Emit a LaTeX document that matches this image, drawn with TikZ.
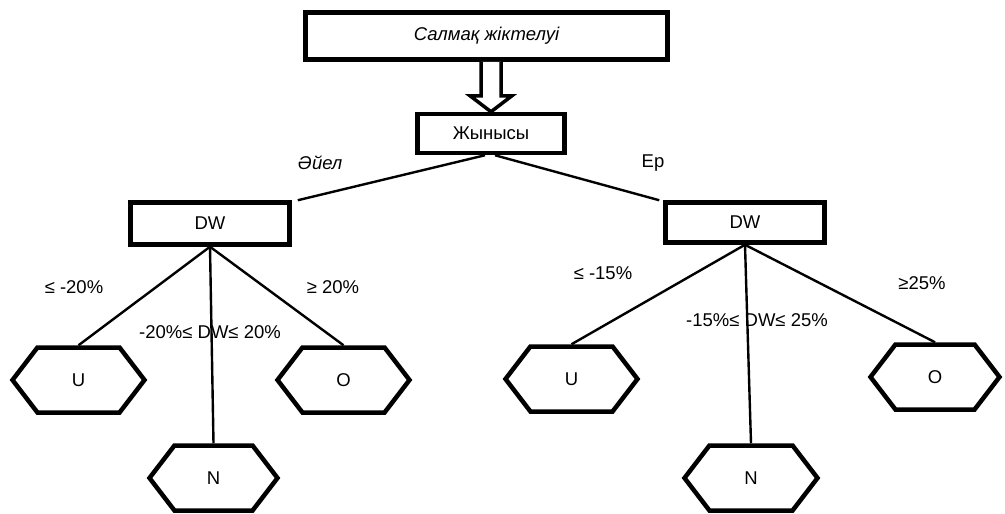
\documentclass[tikz,border=0pt]{standalone}
\usepackage{fontspec}
\setmainfont{Liberation Sans}
\usetikzlibrary{calc,shapes.symbols}
\begin{document}
\begin{tikzpicture}[x=1pt,y=-1pt,
  box/.style={draw,line width=4.5pt,rectangle,inner sep=0pt,font=\fontsize{18.5}{20}\selectfont},
  hexa/.style={draw,line width=4.5pt,signal,signal to=west and east,signal pointer angle=105,
     minimum height=65pt,inner sep=0pt,font=\fontsize{18.5}{20}\selectfont},
  conn/.style={line width=2.4pt},
  lbl/.style={font=\fontsize{18.5}{20}\selectfont,inner sep=0pt}]
\useasboundingbox (0,0) rectangle (1005,514);
% main boxes
\node[box,minimum width=362pt,minimum height=47pt] (top) at (486.5,36) {\itshape Салмақ жіктелуі};
\node[box,minimum width=147pt,minimum height=39pt] (jyn) at (491,133.5) {Жынысы};
\node[box,minimum width=159pt,minimum height=42pt] (dwl) at (210,223.5) {DW};
\node[box,minimum width=159pt,minimum height=40pt] (dwr) at (745,222.5) {DW};
% hexagons
\node[hexa,minimum width=132pt] (ul) at (78.5,380) {U};
\node[hexa,minimum width=132pt] (ol) at (343.5,380) {O};
\node[hexa,minimum width=128pt] (nl) at (213.5,478) {N};
\node[hexa,minimum width=132pt] (ur) at (571.5,379) {U};
\node[hexa,minimum width=129pt] (or) at (935,377) {O};
\node[hexa,minimum width=133pt] (nr) at (751,478) {N};
% hollow arrow
\coordinate (as) at (top.south -| jyn.north);
\draw[line width=3.5pt,fill=white,line join=miter]
  ($(as)+(-10,0)$) -- ($(jyn.north)+(-10,-16)$) -- ($(jyn.north)+(-21,-16)$) -- (jyn.north)
  -- ($(jyn.north)+(21,-16)$) -- ($(jyn.north)+(10,-16)$) -- ($(as)+(10,0)$);
% connectors
\draw[conn] ($(jyn.south)+(-6,0)$) -- ($(dwl.north east)+(6,0)$);
\draw[conn] ($(jyn.south)+(4,0)$) -- ($(dwr.north west)+(-4,0)$);
\draw[conn] (dwl.south) -- (ul.north);
\draw[conn] (dwl.south) -- (nl.north);
\draw[conn] (dwl.south) -- (ol.north);
\draw[conn] (dwr.south) -- (ur.north);
\draw[conn] (dwr.south) -- (nr.north);
\draw[conn] (dwr.south) -- (or.north);
% labels
\node[lbl] (lw) at (320,163) {\itshape Әйел};
\node[lbl] (lm) at (653,163) {Ер};
\node[lbl] (l1) at (74,287) {≤ -20\%};
\node[lbl] (l2) at (333,287) {≥ 20\%};
\node[lbl] (l3) at (210,332) {-20\%≤ DW≤ 20\%};
\node[lbl] (r1) at (603,273) {≤ -15\%};
\node[lbl] (r2) at (922,283) {≥25\%};
\node[lbl] (r3) at (757,320) {-15\%≤ DW≤ 25\%};
\end{tikzpicture}
\end{document}
